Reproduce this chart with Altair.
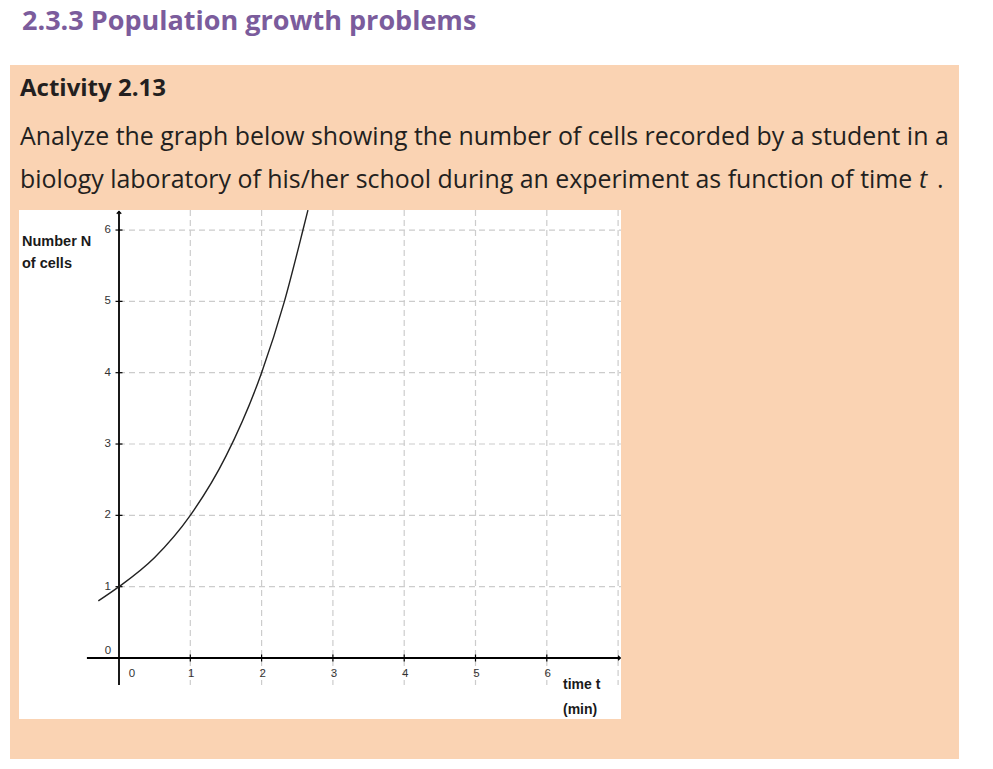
import altair as alt
import pandas as pd

# ---- data ----
t_vals = [-0.29, 0.0, 0.5, 1.0, 1.5, 2.0, 2.32, 2.58, 2.65]
n_vals = [0.8, 1.0, 1.41, 2.0, 2.83, 4.0, 5.0, 6.0, 6.28]
x_ticks = [1, 2, 3, 4, 5, 6]
y_ticks = [1, 2, 3, 4, 5, 6]
grid_x = [1, 2, 3, 4, 5, 6, 7]
grid_y = [1, 2, 3, 4, 5, 6]

heading = "2.3.3 Population growth problems"
activity = "Activity 2.13"
line1 = "Analyze the graph below showing the number of cells recorded by a student in a"
line2 = "biology laboratory of his/her school during an experiment as function of time"

W, H = 993, 769
XMIN, XMAX = -1.669, 12.258
YMIN, YMAX = -1.556, 9.225
xs = alt.Scale(domain=[XMIN, XMAX], nice=False, zero=False)
ys = alt.Scale(domain=[YMIN, YMAX], nice=False, zero=False)


def px(p):  # page pixel -> x data
    return XMIN + (XMAX - XMIN) * p / W


def py(p):  # page pixel -> y data
    return YMAX - (YMAX - YMIN) * p / H


ORANGE = "#FAD3B3"
PURPLE = "#7B5C9C"
INK = "#231F20"
TXTFONT = "Open Sans"


def X(f="x"):
    return alt.X(f"{f}:Q", scale=xs, axis=None)


def Y(f="y"):
    return alt.Y(f"{f}:Q", scale=ys, axis=None)


def box(x1, x2, y1, y2, color):
    df = pd.DataFrame({"x": [px(x1)], "x2": [px(x2)], "y": [py(y1)], "y2": [py(y2)]})
    return alt.Chart(df).mark_rect(color=color).encode(x=X(), x2="x2:Q", y=Y(), y2="y2:Q")


def ptext(txt, x, y, size, weight="normal", color=INK, font=TXTFONT, style="normal"):
    df = pd.DataFrame({"x": [px(x)], "y": [py(y)], "s": [txt]})
    return alt.Chart(df).mark_text(
        font=font, fontSize=size, fontWeight=weight, color=color,
        align="left", baseline="alphabetic", fontStyle=style
    ).encode(x=X(), y=Y(), text="s:N")


orange = box(10, 959, 65, 759, ORANGE)
white = box(19, 621, 210, 719, "white")

t_head = ptext(heading, 22, 30, 27, "bold", PURPLE)
t_act = ptext(activity, 20, 96, 24, "bold")
t_l1 = ptext(line1, 20, 145, 24.9)
t_l2 = ptext(line2, 20, 188, 24.9)
t_l2b = ptext("t", 919, 188, 24.9, style="italic")
t_l2c = ptext(".", 937, 188, 24.9)

LBL = "Liberation Sans"
t_ylab1 = ptext("Number N", 22, 246, 14.5, "bold", "#1a1a1a", LBL)
t_ylab2 = ptext("of cells", 22, 268, 14.5, "bold", "#1a1a1a", LBL)
t_xlab1 = ptext("time t", 563, 689, 14, "bold", "#1a1a1a", LBL)
t_xlab2 = ptext("(min)", 563, 714, 14, "bold", "#1a1a1a", LBL)

gv_df = pd.DataFrame({"x": grid_x, "y": [6.28] * len(grid_x), "y2": [-0.38] * len(grid_x)})
gh_df = pd.DataFrame({"y": grid_y, "x": [0.0] * len(grid_y), "x2": [7.04] * len(grid_y)})
grid_v = alt.Chart(gv_df).mark_rule(color="#cccccc", strokeWidth=1.2, strokeDash=[6, 4]).encode(
    x=X(), y=Y(), y2="y2:Q")
grid_h = alt.Chart(gh_df).mark_rule(color="#cccccc", strokeWidth=1.2, strokeDash=[6, 4]).encode(
    y=Y(), x=X(), x2="x2:Q")

ay_df = pd.DataFrame({"x": [0.0], "y": [-0.38], "y2": [6.26]})
ax_df = pd.DataFrame({"y": [0.0], "x": [-0.45], "x2": [7.03]})
axis_y = alt.Chart(ay_df).mark_rule(color="black", strokeWidth=1.8).encode(x=X(), y=Y(), y2="y2:Q")
axis_x = alt.Chart(ax_df).mark_rule(color="black", strokeWidth=1.8).encode(y=Y(), x=X(), x2="x2:Q")

arrow_y = alt.Chart(pd.DataFrame({"x": [0.0], "y": [6.26]})).mark_point(
    shape="M-1,1L0,0L1,1", filled=False, color="black", strokeWidth=1.3, size=20, opacity=1
).encode(x=X(), y=Y())
arrow_x = alt.Chart(pd.DataFrame({"x": [7.03], "y": [0.0]})).mark_point(
    shape="M-1,-1L0,0L-1,1", filled=False, color="black", strokeWidth=1.3, size=20, opacity=1
).encode(x=X(), y=Y())

# small tick marks as short rules (half-length in data units of ~3.5 px)
hx = (XMAX - XMIN) * 3.5 / W
hy = (YMAX - YMIN) * 3.5 / H
yt_df = pd.DataFrame({"y": y_ticks, "x": [-hx] * len(y_ticks), "x2": [hx] * len(y_ticks)})
xt_df = pd.DataFrame({"x": x_ticks, "y": [-hy] * len(x_ticks), "y2": [hy] * len(x_ticks)})
ticks_y = alt.Chart(yt_df).mark_rule(color="black", strokeWidth=1.2).encode(y=Y(), x=X(), x2="x2:Q")
ticks_x = alt.Chart(xt_df).mark_rule(color="black", strokeWidth=1.2).encode(x=X(), y=Y(), y2="y2:Q")

ylab_df = pd.DataFrame({"y": y_ticks, "x": [0.0] * len(y_ticks), "lab": [str(v) for v in y_ticks]})
xlab_df = pd.DataFrame({"x": x_ticks, "y": [0.0] * len(x_ticks), "lab": [str(v) for v in x_ticks]})
labs_y = alt.Chart(ylab_df).mark_text(align="right", baseline="middle", dx=-8, font=LBL,
                                      fontSize=11.5, color="#333333").encode(x=X(), y=Y(), text="lab:N")
labs_x = alt.Chart(xlab_df).mark_text(align="center", baseline="middle", dy=16, dx=1, font=LBL,
                                      fontSize=11.5, color="#333333").encode(x=X(), y=Y(), text="lab:N")
o_df = pd.DataFrame({"x": [0.0], "y": [0.0], "lab": ["0"]})
lab_x0 = alt.Chart(o_df).mark_text(align="center", baseline="middle", dx=13, dy=16, font=LBL,
                                   fontSize=11.5, color="#333333").encode(x=X(), y=Y(), text="lab:N")
lab_y0 = alt.Chart(o_df).mark_text(align="center", baseline="middle", dx=-11, dy=-7, font=LBL,
                                   fontSize=11.5, color="#333333").encode(x=X(), y=Y(), text="lab:N")

curve_df = pd.DataFrame({"x": t_vals, "y": n_vals})
curve = alt.Chart(curve_df).mark_line(color="#222222", strokeWidth=1.4, interpolate="monotone").encode(
    x=X(), y=Y(), order="x:Q")

chart = alt.layer(
    orange, white, t_head, t_act, t_l1, t_l2, t_l2b, t_l2c,
    grid_v, grid_h, axis_y, axis_x, arrow_y, arrow_x, ticks_y, ticks_x,
    labs_y, labs_x, lab_x0, lab_y0, curve,
    t_ylab1, t_ylab2, t_xlab1, t_xlab2
).properties(
    width=W, height=H, padding=0, background="white",
    autosize=alt.AutoSizeParams(type="none")
).configure_view(stroke=None)

chart.save("out.html", embed_options={"renderer": "svg", "actions": False})
